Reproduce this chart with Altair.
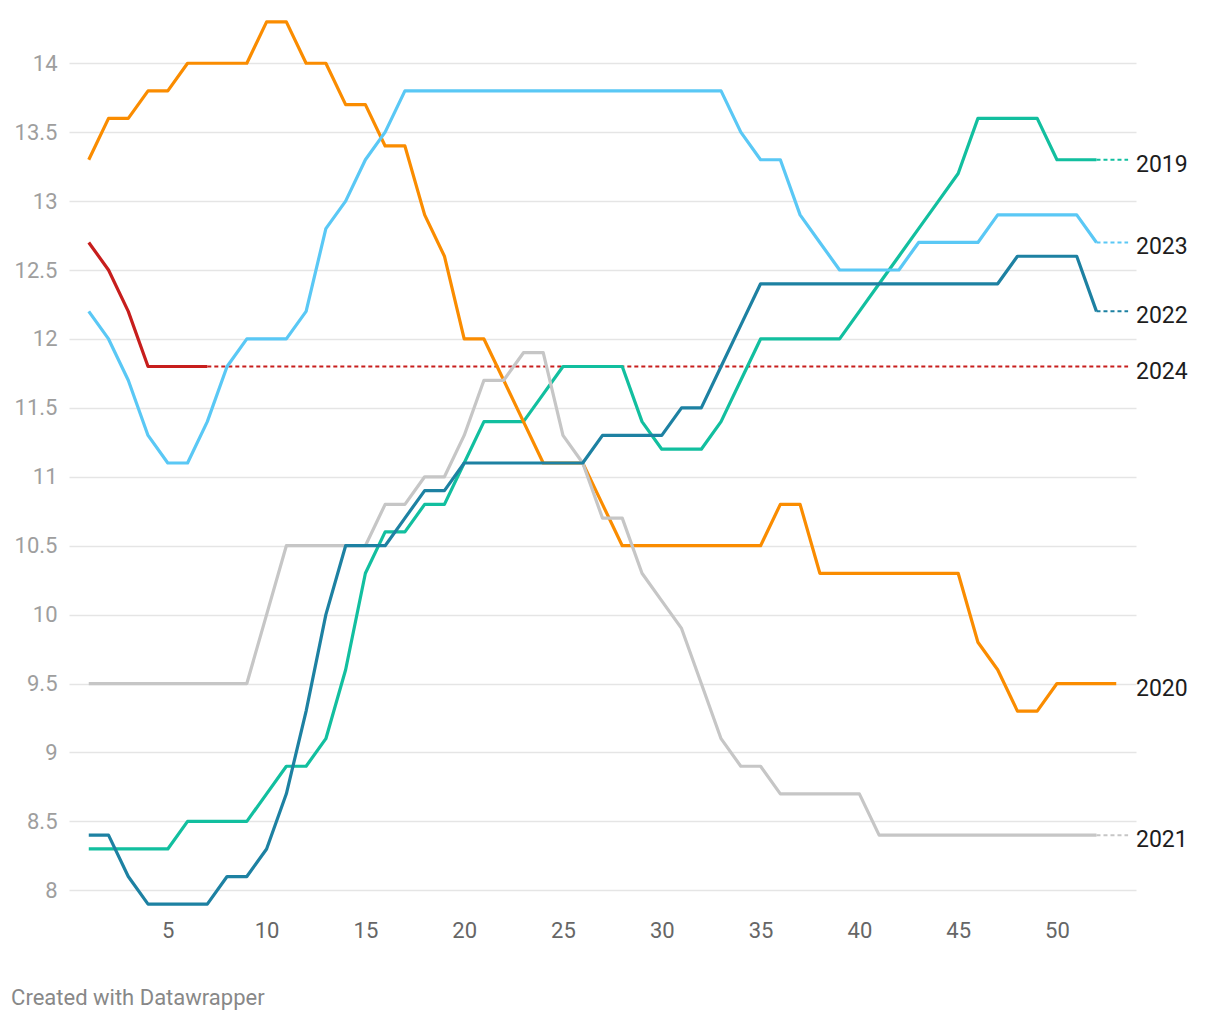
import altair as alt
import pandas as pd

years = ["2019", "2020", "2021", "2022", "2023", "2024"]
colors = ["#12bf9f", "#fa8c00", "#c6c6c6", "#1d81a2", "#5ac8f5", "#c71e1d"]

v2019 = [8.3, 8.3, 8.3, 8.3, 8.3, 8.5, 8.5, 8.5, 8.5, 8.7,
         8.9, 8.9, 9.1, 9.6, 10.3, 10.6, 10.6, 10.8, 10.8, 11.1,
         11.4, 11.4, 11.4, 11.6, 11.8, 11.8, 11.8, 11.8, 11.4, 11.2,
         11.2, 11.2, 11.4, 11.7, 12.0, 12.0, 12.0, 12.0, 12.0, 12.2,
         12.4, 12.6, 12.8, 13.0, 13.2, 13.6, 13.6, 13.6, 13.6, 13.3,
         13.3, 13.3]
v2020 = [13.3, 13.6, 13.6, 13.8, 13.8, 14.0, 14.0, 14.0, 14.0, 14.3,
         14.3, 14.0, 14.0, 13.7, 13.7, 13.4, 13.4, 12.9, 12.6, 12.0,
         12.0, 11.7, 11.4, 11.1, 11.1, 11.1, 10.8, 10.5, 10.5, 10.5,
         10.5, 10.5, 10.5, 10.5, 10.5, 10.8, 10.8, 10.3, 10.3, 10.3,
         10.3, 10.3, 10.3, 10.3, 10.3, 9.8, 9.6, 9.3, 9.3, 9.5,
         9.5, 9.5, 9.5]
v2021 = [9.5, 9.5, 9.5, 9.5, 9.5, 9.5, 9.5, 9.5, 9.5, 10.0,
         10.5, 10.5, 10.5, 10.5, 10.5, 10.8, 10.8, 11.0, 11.0, 11.3,
         11.7, 11.7, 11.9, 11.9, 11.3, 11.1, 10.7, 10.7, 10.3, 10.1,
         9.9, 9.5, 9.1, 8.9, 8.9, 8.7, 8.7, 8.7, 8.7, 8.7,
         8.4, 8.4, 8.4, 8.4, 8.4, 8.4, 8.4, 8.4, 8.4, 8.4,
         8.4, 8.4]
v2022 = [8.4, 8.4, 8.1, 7.9, 7.9, 7.9, 7.9, 8.1, 8.1, 8.3,
         8.7, 9.3, 10.0, 10.5, 10.5, 10.5, 10.7, 10.9, 10.9, 11.1,
         11.1, 11.1, 11.1, 11.1, 11.1, 11.1, 11.3, 11.3, 11.3, 11.3,
         11.5, 11.5, 11.8, 12.1, 12.4, 12.4, 12.4, 12.4, 12.4, 12.4,
         12.4, 12.4, 12.4, 12.4, 12.4, 12.4, 12.4, 12.6, 12.6, 12.6,
         12.6, 12.2]
v2023 = [12.2, 12.0, 11.7, 11.3, 11.1, 11.1, 11.4, 11.8, 12.0, 12.0,
         12.0, 12.2, 12.8, 13.0, 13.3, 13.5, 13.8, 13.8, 13.8, 13.8,
         13.8, 13.8, 13.8, 13.8, 13.8, 13.8, 13.8, 13.8, 13.8, 13.8,
         13.8, 13.8, 13.8, 13.5, 13.3, 13.3, 12.9, 12.7, 12.5, 12.5,
         12.5, 12.5, 12.7, 12.7, 12.7, 12.7, 12.9, 12.9, 12.9, 12.9,
         12.9, 12.7]
v2024 = [12.7, 12.5, 12.2, 11.8, 11.8, 11.8, 11.8]

x_ticks = [5, 10, 15, 20, 25, 30, 35, 40, 45, 50]
y_ticks = [8, 8.5, 9, 9.5, 10, 10.5, 11, 11.5, 12, 12.5, 13, 13.5, 14]

series = dict(zip(years, [v2019, v2020, v2021, v2022, v2023, v2024]))

rows = []
for yr, vals in series.items():
    for i, v in enumerate(vals):
        rows.append({"year": yr, "week": i + 1, "value": v})
df = pd.DataFrame(rows)

LABEL_X = 54
CONN_END = 53.6
conn_rows = []
lab_rows = []
for yr, vals in series.items():
    n = len(vals)
    if n < 53:
        conn_rows.append({"year": yr, "week": n, "end": CONN_END, "value": vals[-1]})
    lab_rows.append({"year": yr, "week": LABEL_X, "value": vals[-1]})
df_conn = pd.DataFrame(conn_rows)
df_lab = pd.DataFrame(lab_rows)

FONT = "Roboto"

x_enc = alt.X("week:Q",
              scale=alt.Scale(domain=[0, 54], nice=False, zero=False),
              axis=alt.Axis(values=x_ticks, grid=False, domain=False, ticks=False,
                            labelFontSize=22, labelColor="#666666", labelPadding=9,
                            labelFont=FONT, title=None))
y_enc = alt.Y("value:Q",
              scale=alt.Scale(domain=[7.85, 14.35], nice=False, zero=False),
              axis=alt.Axis(values=y_ticks, format=".1~f", grid=True, gridColor="#e5e5e5",
                            gridWidth=1.5, domain=False, ticks=False,
                            labelFontSize=22, labelColor="#9e9e9e", labelPadding=12,
                            labelFont=FONT, title=None))
color_enc = alt.Color("year:N", scale=alt.Scale(domain=years, range=colors), legend=None)

lines = alt.Chart(df).mark_line(strokeWidth=3.2, strokeJoin="round").encode(
    x=x_enc, y=y_enc, color=color_enc, order="week:Q"
)

conns = alt.Chart(df_conn).mark_rule(strokeDash=[4, 3], strokeWidth=2).encode(
    x="week:Q", x2="end:Q", y="value:Q", color=color_enc
)

labels = alt.Chart(df_lab).mark_text(
    align="left", baseline="middle", dy=5, fontSize=23, font=FONT, color="#1d1d1d"
).encode(x="week:Q", y="value:Q", text="year:N")

chart = alt.layer(conns, lines, labels).properties(
    width=1067,
    height=896,
    autosize="none",
    padding={"left": 61, "top": 7, "right": 66, "bottom": 104},
    title=alt.TitleParams("Created with Datawrapper", orient="bottom", anchor="start",
                          frame="bounds", fontSize=22, color="#888888", font=FONT,
                          fontWeight="normal", offset=47, dx=-3),
).configure_view(stroke=None)

chart.save("out.html", embed_options={"renderer": "svg", "actions": False})
